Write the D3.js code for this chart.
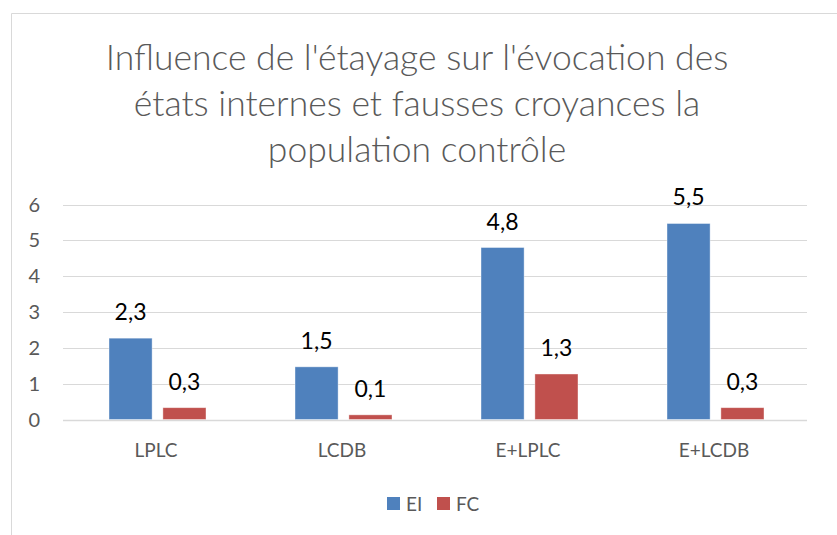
<!DOCTYPE html>
<html>
<head>
<meta charset="utf-8">
<script src="https://cdn.jsdelivr.net/npm/d3@7"></script>
<style>
  body { margin: 0; background: #fff; }
  svg { display: block; font-family: Lato, "Open Sans", sans-serif; }
</style>
</head>
<body>
<svg id="svg" width="837" height="535"></svg>
<script>
const categories = ["LPLC", "LCDB", "E+LPLC", "E+LCDB"];
const seriesNames = ["EI", "FC"];
const eiValues = [2.27, 1.47, 4.8, 5.47];
const fcValues = [0.33, 0.13, 1.27, 0.33];
const yTicks = [0, 1, 2, 3, 4, 5, 6];
const titleLines = [
  "Influence de l'étayage sur l'évocation des",
  "états internes et fausses croyances la",
  "population contrôle"
];
const colors = { EI: "#4f81bd", FC: "#c0504d" };

const svg = d3.select("#svg");
const width = 837, height = 535;

// chart frame (only top and left edges visible)
svg.append("path")
  .attr("d", `M11.5,${height} V13.5 H${width}`)
  .attr("fill", "none")
  .attr("stroke", "#d9d9d9")
  .attr("stroke-width", 1);

// title
svg.append("g")
  .selectAll("text")
  .data(titleLines)
  .join("text")
  .attr("x", 417)
  .attr("y", (d, i) => 70 + i * 46)
  .attr("text-anchor", "middle")
  .attr("fill", "#595959")
  .style("font-size", "35.5px")
  .style("font-weight", 300)
  .text(d => d);

const x0 = d3.scaleBand().domain(categories).range([63, 807]);
const bw = x0.bandwidth();
const x1 = d3.scaleBand()
  .domain(seriesNames)
  .range([bw / 2 - 47, bw / 2 + 50])
  .paddingInner(0.2);
const y = d3.scaleLinear().domain([0, 6]).range([419.5, 204.5]);

// gridlines
svg.append("g")
  .selectAll("line")
  .data(yTicks)
  .join("line")
  .attr("x1", 63)
  .attr("x2", 807)
  .attr("y1", d => Math.round(y(d)) + 0.5)
  .attr("y2", d => Math.round(y(d)) + 0.5)
  .attr("stroke", "#d9d9d9")
  .attr("stroke-width", d => (d === 0 ? 1.5 : 1));

// y tick labels
svg.append("g")
  .selectAll("text")
  .data(yTicks)
  .join("text")
  .attr("x", 40)
  .attr("y", d => y(d))
  .attr("dy", "0.35em")
  .attr("text-anchor", "end")
  .attr("fill", "#595959")
  .style("font-size", "20px")
  .text(d => d);

const rows = categories.map((c, i) => ({
  cat: c,
  vals: [
    { key: "EI", v: eiValues[i] },
    { key: "FC", v: fcValues[i] }
  ]
}));

const groups = svg.append("g")
  .selectAll("g")
  .data(rows)
  .join("g")
  .attr("transform", d => `translate(${x0(d.cat)},0)`);

groups.selectAll("rect")
  .data(d => d.vals)
  .join("rect")
  .attr("x", d => x1(d.key))
  .attr("width", x1.bandwidth())
  .attr("y", d => y(d.v))
  .attr("height", d => y(0) - y(d.v))
  .attr("fill", d => colors[d.key])
  .attr("stroke", "#ffffff")
  .attr("stroke-opacity", 0.5)
  .attr("stroke-width", 0.8);

const fmt = v => d3.format(".1f")(v).replace(".", ",");

groups.selectAll("text")
  .data(d => d.vals)
  .join("text")
  .attr("x", d => x1(d.key) + x1.bandwidth() / 2)
  .attr("y", d => y(d.v) - 18)
  .attr("text-anchor", "middle")
  .attr("fill", "#000")
  .style("font-size", "23px")
  .text(d => fmt(d.v));

// category labels
svg.append("g")
  .selectAll("text")
  .data(categories)
  .join("text")
  .attr("x", d => x0(d) + bw / 2)
  .attr("y", 450)
  .attr("dy", "0.35em")
  .attr("text-anchor", "middle")
  .attr("fill", "#595959")
  .style("font-size", "19px")
  .text(d => d);

// legend
const legend = svg.append("g")
  .attr("transform", "translate(387,504)");
const items = legend.selectAll("g")
  .data(seriesNames)
  .join("g")
  .attr("transform", (d, i) => `translate(${i * 50},0)`);
items.append("rect")
  .attr("x", 0)
  .attr("y", -7)
  .attr("width", 13)
  .attr("height", 13)
  .attr("fill", d => colors[d]);
items.append("text")
  .attr("x", 19)
  .attr("y", 0)
  .attr("dy", "0.35em")
  .attr("fill", "#595959")
  .style("font-size", "19px")
  .text(d => d);
</script>
</body>
</html>
